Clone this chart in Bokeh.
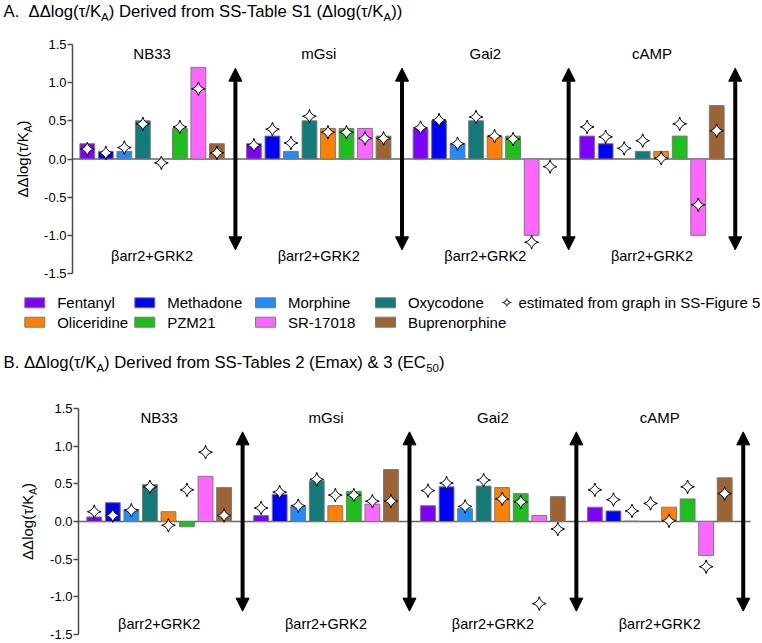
import math
import subprocess

from bokeh.plotting import figure
from bokeh.layouts import column, row
from bokeh.models import (Range1d, FixedTicker, PrintfTickFormatter, Arrow,
                          NormalHead, ColumnDataSource)
from bokeh.core.properties import value
from bokeh.embed import file_html
from bokeh.resources import INLINE

NAN = float("nan")

# ---------------- data ----------------
groups = ["NB33", "mGsi", "Gai2", "cAMP"]
group_sub = "βarr2+GRK2"
drugs = ["Fentanyl", "Methadone", "Morphine", "Oxycodone",
         "Oliceridine", "PZM21", "SR-17018", "Buprenorphine"]

# Panel A: ΔΔlog(τ/KA) from SS-Table S1
a_nb33 = [0.20, 0.10, 0.10, 0.50, NAN, 0.40, 1.20, 0.20]
a_mgsi = [0.20, 0.30, 0.10, 0.50, 0.40, 0.40, 0.40, 0.30]
a_gai2 = [0.40, 0.50, 0.20, 0.50, 0.30, 0.30, -1.00, NAN]
a_camp = [0.30, 0.20, NAN, 0.10, 0.10, 0.30, -1.00, 0.70]

# Panel B: ΔΔlog(τ/KA) from SS-Tables 2 & 3
b_nb33 = [0.06, 0.25, 0.16, 0.49, 0.13, -0.07, 0.60, 0.45]
b_mgsi = [0.08, 0.36, 0.21, 0.54, 0.21, 0.40, 0.23, 0.69]
b_gai2 = [0.21, 0.46, 0.17, 0.47, 0.45, 0.37, 0.08, 0.33]
b_camp = [0.19, 0.14, 0.005, NAN, 0.19, 0.30, -0.45, 0.58]

# estimated from graph in SS-Figure 5 (stars, same in both panels)
est_nb33 = [0.13, 0.08, 0.15, 0.46, -0.05, 0.42, 0.92, 0.08]
est_mgsi = [0.18, 0.39, 0.21, 0.56, 0.35, 0.35, 0.27, 0.27]
est_gai2 = [0.41, 0.51, 0.20, 0.55, 0.30, 0.26, -1.09, -0.10]
est_camp = [0.42, 0.29, 0.14, 0.24, 0.01, 0.46, -0.60, 0.37]

y_ticks = [-1.5, -1.0, -0.5, 0.0, 0.5, 1.0, 1.5]
legend_note = "estimated from graph in SS-Figure 5"
star_char = "✧"

# ---------------- styles ----------------
drug_colors = ["#8000ff", "#0000ff", "#1e8cff", "#137a7a",
               "#ff8000", "#1cbf1c", "#ff66ff", "#9c6432"]
FONT = "Liberation Sans"
SLOTS = len(drugs) + 1
W = 760
YLW = 40
MID = 0.35  # distance (em) from baseline to the text "middle"

# ---------------- text measuring ----------------
_ARIAL = {' ': 278, '.': 278, '(': 333, ')': 333, '/': 278, '-': 333, '+': 584, '&': 667,
          'A': 667, 'B': 667, 'C': 722, 'D': 722, 'E': 667, 'F': 611, 'G': 778, 'K': 667,
          'M': 833, 'N': 722, 'P': 667, 'R': 722, 'S': 667, 'T': 611,
          'a': 556, 'b': 556, 'c': 500, 'd': 556, 'e': 556, 'f': 278, 'g': 556, 'h': 556,
          'i': 222, 'l': 222, 'm': 833, 'n': 556, 'o': 556, 'p': 556, 'r': 333, 's': 500,
          't': 278, 'u': 556, 'v': 500, 'x': 500, 'y': 500, 'Δ': 668, 'τ': 480, 'β': 570}


def _fontfile(name):
    try:
        r = subprocess.run(["fc-match", "-f", "%{file}", name],
                           capture_output=True, text=True, timeout=5)
        return r.stdout.strip() or None
    except Exception:
        return None


_FF = _fontfile(FONT)
_PIL_FONT = None
if _FF:
    try:
        from PIL import ImageFont
        _PIL_FONT = ImageFont.truetype(_FF, 100)
    except Exception:
        _PIL_FONT = None


def tw(text, size):
    if _PIL_FONT is not None:
        try:
            return _PIL_FONT.getlength(text) * size / 100.0
        except Exception:
            pass
    return sum(_ARIAL.get(c, 556) for c in text) * size / 1000.0


# ---------------- helpers ----------------
def strip(width, height):
    s = figure(width=width, height=height, x_range=Range1d(0, width),
               y_range=Range1d(height, 0), output_backend="svg", toolbar_location=None,
               x_axis_location=None, y_axis_location=None,
               min_border_left=0, min_border_right=0, min_border_top=0,
               min_border_bottom=0, outline_line_color=None,
               background_fill_color="white", border_fill_color="white",
               frame_align=False)
    s.grid.visible = False
    return s


def pieces_text(fig, pieces, x, y, fs, sfs, soff, rotated=False):
    """Draw text pieces (normal / subscript) one after another; (x, y) is the baseline."""
    cur = x if not rotated else y
    for text, is_sub in pieces:
        size = sfs if is_sub else fs
        lead = len(text) - len(text.lstrip(" "))
        step = tw(" " * lead, size)
        cur = cur + step if not rotated else cur - step
        t = text.lstrip(" ")
        down = (soff if is_sub else 0) - MID * size
        if rotated:
            px, py, ang = x + down, cur, math.pi / 2
        else:
            px, py, ang = cur, y + down, 0.0
        fig.text(x=[px], y=[py], text=[t], angle=ang, text_font=value(FONT),
                 text_font_size=f"{size}px", text_align="left",
                 text_baseline="middle", text_color="black")
        w = tw(t, size)
        cur = cur + w if not rotated else cur - w


def make_panel(vals, est, geo):
    H = geo["H"]
    bl, br, bt, bb = geo["bl"], geo["br"], geo["bt"], geo["bb"]
    x0, x1 = geo["x0"], len(groups) * SLOTS - 0.5
    y0, y1 = y_ticks[0], y_ticks[-1]

    p = figure(width=W - YLW, height=H, x_range=Range1d(x0, x1), y_range=Range1d(y0, y1),
               output_backend="svg", toolbar_location=None, x_axis_location=None,
               min_border_left=bl, min_border_right=br, min_border_top=bt,
               min_border_bottom=bb, outline_line_color=None,
               background_fill_color="white", border_fill_color="white",
               frame_align=False)
    p.grid.visible = False

    ax = p.yaxis[0]
    ax.ticker = FixedTicker(ticks=y_ticks)
    ax.formatter = PrintfTickFormatter(format="%.1f")
    ax.axis_line_color = "#4d4d4d"
    ax.axis_line_width = 1.5
    ax.major_tick_line_color = "#4d4d4d"
    ax.major_tick_line_width = 1.5
    ax.major_tick_out = 5
    ax.major_tick_in = 0
    ax.minor_tick_line_color = None
    ax.major_label_standoff = 1
    ax.major_label_text_font = FONT
    ax.major_label_text_font_size = "13px"
    ax.major_label_text_color = "black"

    xs, tops, cols, ests = [], [], [], []
    for g, (gv, ge) in enumerate(zip(vals, est)):
        for d in range(len(drugs)):
            xs.append(g * SLOTS + d)
            tops.append(gv[d])
            cols.append(drug_colors[d])
            ests.append(ge[d])
    src = ColumnDataSource(dict(x=xs, top=tops, color=cols, est=ests))

    last_arrow = (len(groups) - 1) * SLOTS + len(drugs)
    p.segment(x0=[x0], y0=[0], x1=[last_arrow + geo["zext"]], y1=[0],
              line_color="#666666", line_width=1.5)

    p.vbar(x="x", top="top", bottom=0, width=0.8, fill_color="color",
           line_color="#7a7a7a", line_width=1, source=src)
    p.scatter(x="x", y="est", marker="square_pin", size=9.7, angle=math.pi / 4,
              fill_color="white", line_color="black", line_width=1, source=src)

    for g in range(len(groups)):
        xa = g * SLOTS + len(drugs)
        p.add_layout(Arrow(x_start=xa, y_start=-1.19, x_end=xa, y_end=1.19,
                           line_color="black", line_width=4,
                           start=NormalHead(size=13, fill_color="black",
                                            line_color="black", line_width=1),
                           end=NormalHead(size=13, fill_color="black",
                                          line_color="black", line_width=1)))

    centers = [g * SLOTS + (len(drugs) - 1) / 2 for g in range(len(groups))]
    p.text(x=centers, y=[geo["gy"]] * len(groups), text=groups,
           text_font=value(FONT), text_font_size="15px",
           text_align="center", text_baseline="middle", text_color="black")
    p.text(x=centers, y=[geo["sy"]] * len(groups), text=[group_sub] * len(groups),
           text_font=value(FONT), text_font_size="14.5px",
           text_align="center", text_baseline="middle", text_color="black")
    return p


def ylabel_strip(geo):
    s = strip(YLW, geo["H"])
    fs, sfs = 15, 10
    yp = [("ΔΔlog(τ/K", False), ("A", True), (")", False)]
    total = sum(tw(t, sfs if sb else fs) for t, sb in yp)
    fh = geo["H"] - geo["bt"] - geo["bb"]
    cy = geo["bt"] + fh / 2 + total / 2
    pieces_text(s, yp, geo["lx"], cy, fs, sfs, 4.5, rotated=True)
    return s


def title_strip(height, pieces, baseline):
    s = strip(W, height)
    pieces_text(s, pieces, 3.0, baseline, 16.7, 11.5, 4.0)
    return s


# ---------------- layout pieces ----------------
# panel A: frame 44..273 px, x from 72 px; panel B: frame 408..634 px, x from 78 px
geoA = dict(H=264, bl=32, br=16, bt=20, bb=15, x0=-0.8, zext=0.0,
            gy=1.38, sy=-1.27, lx=27.0)
geoB = dict(H=262, bl=38, br=8, bt=28, bb=8, x0=-0.85, zext=0.4,
            gy=1.38, sy=-1.36, lx=32.0)

titleA = [("A.", False), ("  ΔΔlog(τ/K", False), ("A", True),
          (") Derived from SS-Table S1 (Δlog(τ/K", False), ("A", True), ("))", False)]
titleB = [("B. ΔΔlog(τ/K", False), ("A", True),
          (") Derived from SS-Tables 2 (Emax) & 3 (EC", False), ("50", True), (")", False)]

tA = title_strip(24, titleA, 16.8)
pA = make_panel([a_nb33, a_mgsi, a_gai2, a_camp],
                [est_nb33, est_mgsi, est_gai2, est_camp], geoA)
yA = ylabel_strip(geoA)

tB = title_strip(42, titleB, 30.0)
pB = make_panel([b_nb33, b_mgsi, b_gai2, b_camp],
                [est_nb33, est_mgsi, est_gai2, est_camp], geoB)
yB = ylabel_strip(geoB)

# ---------------- legend strip ----------------
LH = 50
pL = strip(W, LH)
col_left = [24.3, 134.3, 255.0, 375.0]
row_y = [14.3, 33.7]
sw, sh = 20.0, 10.0
ncol = len(col_left)
lx = [col_left[i % ncol] + sw / 2 for i in range(len(drugs))]
ly = [row_y[i // ncol] for i in range(len(drugs))]
pL.rect(x=lx, y=ly, width=sw, height=sh, fill_color=drug_colors,
        line_color="#7a7a7a", line_width=1)
pL.text(x=[col_left[i % ncol] + 32.4 for i in range(len(drugs))], y=ly, text=drugs,
        text_font=value(FONT), text_font_size="15px", text_align="left",
        text_baseline="middle", text_color="black")
pL.text(x=[500.0], y=[row_y[0]], text=[star_char], text_font=value("DejaVu Sans"),
        text_font_size="15px", text_align="left", text_baseline="middle",
        text_color="black")
pL.text(x=[518.0], y=[row_y[0]], text=[legend_note], text_font=value(FONT),
        text_font_size="15px", text_align="left", text_baseline="middle",
        text_color="black")

layout = column(tA, row(yA, pA, spacing=0), pL, tB, row(yB, pB, spacing=0), spacing=0)

with open("out.html", "w") as f:
    f.write(file_html(layout, INLINE))
